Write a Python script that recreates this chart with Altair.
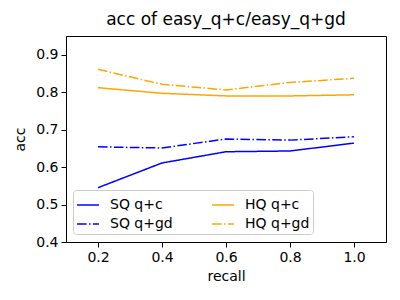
import altair as alt
import pandas as pd

recall = [0.2, 0.4, 0.6, 0.8, 1.0]
sq_qc = [0.545, 0.611, 0.641, 0.643, 0.664]
sq_qgd = [0.654, 0.651, 0.675, 0.672, 0.681]
hq_qc = [0.812, 0.797, 0.790, 0.790, 0.793]
hq_qgd = [0.861, 0.821, 0.806, 0.826, 0.837]
series = ["SQ q+c", "SQ q+gd", "HQ q+c", "HQ q+gd"]
colors = ["#0000ff", "#0000ff", "#ffa500", "#ffa500"]
dashes = [[1, 0], [9.6, 2.4, 1.5, 2.4], [1, 0], [9.6, 2.4, 1.5, 2.4]]

rows = []
for name, vals in zip(series, [sq_qc, sq_qgd, hq_qc, hq_qgd]):
    for r, v in zip(recall, vals):
        rows.append({"recall": r, "acc": v, "series": name})
df = pd.DataFrame(rows)

font = "DejaVu Sans"
legend = alt.Legend(
    title=None, orient="none", legendX=7, legendY=154, columns=2,
    columnPadding=36, rowPadding=0, symbolType="stroke", symbolSize=480,
    symbolStrokeWidth=1.5, labelFontSize=14, labelFont=font, labelColor="black",
    strokeColor="#cccccc", fillColor="white", padding=3, cornerRadius=3,
    labelLimit=200, labelOffset=10,
)

chart = alt.Chart(df).mark_line(strokeWidth=1.5).encode(
    x=alt.X("recall:Q", title="recall", scale=alt.Scale(domain=[0.1, 1.1], nice=False),
            axis=alt.Axis(values=[0.2, 0.4, 0.6, 0.8, 1.0], format=".1f")),
    y=alt.Y("acc:Q", title="acc", scale=alt.Scale(domain=[0.4, 0.95], nice=False, zero=False),
            axis=alt.Axis(values=[0.4, 0.5, 0.6, 0.7, 0.8, 0.9], format=".1f")),
    color=alt.Color("series:N", scale=alt.Scale(domain=series, range=colors), legend=legend, sort=series),
    strokeDash=alt.StrokeDash("series:N", scale=alt.Scale(domain=series, range=dashes), legend=legend, sort=series),
    detail="series:N",
).properties(
    width=320, height=206,
    title=alt.TitleParams("acc of easy_q+c/easy_q+gd", fontSize=17, font=font, fontWeight="normal", color="black", offset=7),
    autosize=alt.AutoSizeParams(type="none"),
    padding={"left": 58, "top": 28, "right": 6, "bottom": 50},
).configure_view(stroke="black", strokeWidth=1).configure_axis(
    grid=False, domainColor="black", tickColor="black", labelColor="black", titleColor="black",
    labelFont=font, titleFont=font, labelFontSize=14, titleFontSize=14, titleFontWeight="normal",
    tickSize=5, labelPadding=3, domainWidth=1,
).configure_axisX(titlePadding=5).configure_axisY(titlePadding=8)

chart.save("out.html", embed_options={"renderer": "svg", "actions": False})
